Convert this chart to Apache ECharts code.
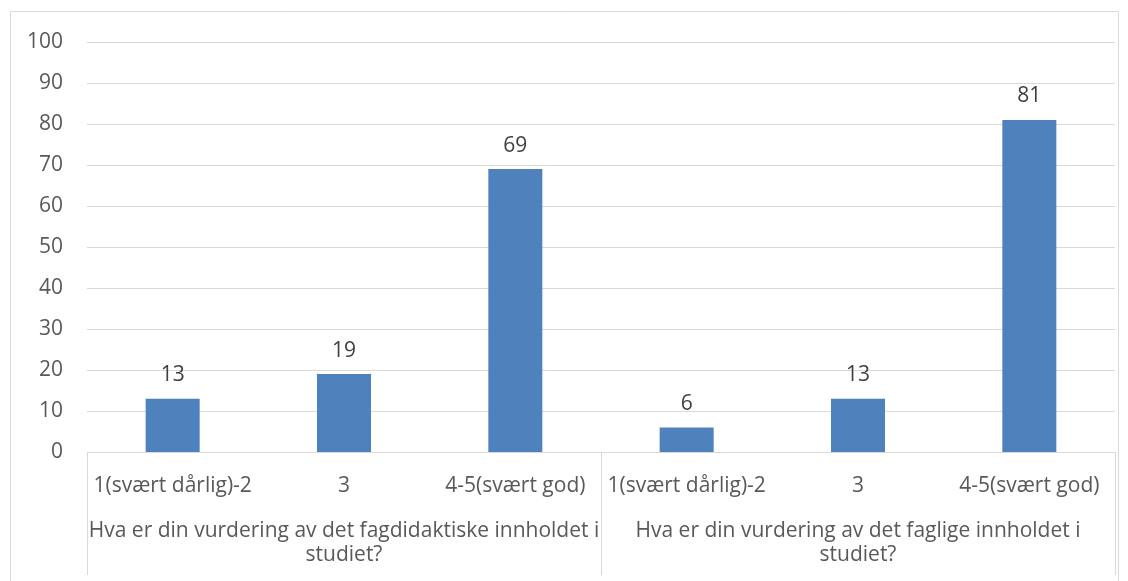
<!DOCTYPE html>
<html>
<head>
<meta charset="utf-8">
<script src="https://cdn.jsdelivr.net/npm/echarts@6/dist/echarts.min.js"></script>
<style>
  html, body { margin: 0; padding: 0; background: #fff; }
  #main { width: 1128px; height: 581px; }
</style>
</head>
<body>
<div id="main"></div>
<script>
// kategorier og verdier
const answers = ['1(svært dårlig)-2', '3', '4-5(svært god)', '1(svært dårlig)-2', '3', '4-5(svært god)'];
const questions = [
    'Hva er din vurdering av det fagdidaktiske innholdet i\nstudiet?',
    'Hva er din vurdering av det faglige innholdet i\nstudiet?'
];
const percent = [13, 19, 69, 6, 13, 81];
const yTicks = { min: 0, max: 100, step: 10 };

const font = '"Open Sans", "Liberation Sans", sans-serif';
const textColor = '#595959';
const lineColor = '#D9D9D9';
const fs = 21;

let myChart = echarts.init(document.getElementById('main'));
let option = {
    animation: false,
    textStyle: { fontFamily: font },
    graphic: [{
        type: 'rect',
        shape: { x: 10.5, y: 11.5, width: 1108, height: 600 },
        style: { fill: 'none', stroke: lineColor, lineWidth: 1 },
        silent: true
    }],
    grid: { left: 87, right: 13, top: 42, bottom: 129 },
    xAxis: [
        {
            type: 'category',
            data: answers,
            axisLine: { lineStyle: { color: lineColor } },
            axisTick: { show: false },
            axisLabel: { color: textColor, fontSize: fs, margin: 24, interval: 0, fontFamily: font }
        },
        {
            type: 'category',
            data: questions,
            position: 'bottom',
            axisLine: { show: false },
            axisTick: { show: true, length: 123, lineStyle: { color: lineColor } },
            axisLabel: { color: textColor, fontSize: fs, margin: 67, lineHeight: 24, interval: 0, fontFamily: font }
        }
    ],
    yAxis: {
        type: 'value',
        min: yTicks.min,
        max: yTicks.max,
        interval: yTicks.step,
        axisLine: { show: false },
        axisTick: { show: false },
        splitLine: { lineStyle: { color: lineColor } },
        axisLabel: { color: textColor, fontSize: fs, margin: 24, fontFamily: font }
    },
    series: [{
        type: 'bar',
        data: percent,
        barWidth: 54,
        itemStyle: { color: '#4F81BD' },
        label: {
            show: true,
            position: 'top',
            distance: 13,
            color: '#404040',
            fontSize: fs,
            fontFamily: font
        }
    }]
};
myChart.setOption(option);
</script>
</body>
</html>
